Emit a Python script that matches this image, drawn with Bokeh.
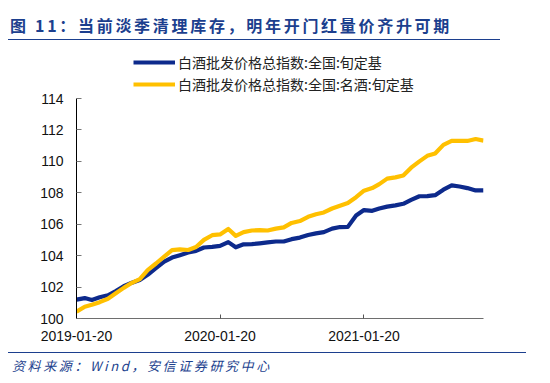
from datetime import datetime
from bokeh.plotting import figure
from bokeh.models import (Range1d, FixedTicker, DatetimeTickFormatter, Legend, LegendItem,
                          Div, ColumnDataSource)
from bokeh.layouts import column
from bokeh.embed import file_html
from bokeh.resources import INLINE

dates = [
    "2019-01-20", "2019-02-10", "2019-02-28", "2019-03-20", "2019-04-10", "2019-04-30",
    "2019-05-20", "2019-06-10", "2019-06-30", "2019-07-20", "2019-08-10", "2019-08-31",
    "2019-09-20", "2019-10-10", "2019-10-31", "2019-11-20", "2019-12-10", "2019-12-31",
    "2020-01-20", "2020-02-10", "2020-02-29", "2020-03-20", "2020-04-10", "2020-04-30",
    "2020-05-20", "2020-06-10", "2020-06-30", "2020-07-20", "2020-08-10", "2020-08-31",
    "2020-09-20", "2020-10-10", "2020-10-31", "2020-11-20", "2020-12-10", "2020-12-31",
    "2021-01-20", "2021-02-10", "2021-02-28", "2021-03-20", "2021-04-10", "2021-04-30",
    "2021-05-20", "2021-06-10", "2021-06-30", "2021-07-20", "2021-08-10", "2021-08-31",
    "2021-09-20", "2021-10-10", "2021-10-31", "2021-11-20",
]

national = [
    101.2, 101.3, 101.18, 101.35, 101.48, 101.75, 102.05, 102.28, 102.45, 102.78, 103.2, 103.62,
    103.88, 104.03, 104.2, 104.3, 104.52, 104.56,
    104.62, 104.86, 104.53, 104.72, 104.73, 104.78, 104.84, 104.9, 104.9, 105.05, 105.15, 105.31,
    105.42, 105.5, 105.72, 105.82, 105.83, 106.55,
    106.9, 106.85, 107.0, 107.12, 107.2, 107.3, 107.55, 107.78, 107.79, 107.85, 108.2, 108.47,
    108.4, 108.3, 108.15, 108.15,
]

famous = [
    100.43, 100.75, 100.87, 101.04, 101.26, 101.6, 101.95, 102.27, 102.5, 103.08, 103.5, 103.94,
    104.35, 104.4, 104.36, 104.55, 105.0, 105.3,
    105.35, 105.7, 105.26, 105.5, 105.6, 105.62, 105.6, 105.72, 105.8, 106.08, 106.2, 106.47,
    106.63, 106.75, 107.0, 107.18, 107.35, 107.72,
    108.13, 108.3, 108.55, 108.9, 108.98, 109.1, 109.6, 110.0, 110.35, 110.5, 111.05, 111.3,
    111.3, 111.3, 111.42, 111.32,
]

series_names = ["白酒批发价格总指数:全国:旬定基", "白酒批发价格总指数:全国:名酒:旬定基"]
x_tick_labels = ["2019-01-20", "2020-01-20", "2021-01-20"]
y_ticks = [100, 102, 104, 106, 108, 110, 112, 114]

title_text = "图 11：当前淡季清理库存，明年开门红量价齐升可期"
source_text = "资料来源：Wind，安信证券研究中心"

NAVY = "#0D2A8C"
GOLD = "#FFC000"
TITLE_BLUE = "#1C3F8E"

def to_dt(s):
    return datetime.strptime(s, "%Y-%m-%d")

xs = [to_dt(d) for d in dates]
src = ColumnDataSource(dict(x=xs, a=national, b=famous))

# frame: x 76..483, y 43..318 ; y-axis drawn only over 100..114 (220 px)
p = figure(width=534, height=312, x_axis_type="datetime",
           x_range=Range1d(to_dt("2019-01-20"), to_dt("2021-11-20")),
           y_range=Range1d(100, 117.5),
           output_backend="svg", toolbar_location=None,
           min_border_left=76, min_border_right=51, min_border_top=3, min_border_bottom=34)
p.outline_line_color = None
p.xgrid.grid_line_color = None
p.ygrid.grid_line_color = None
p.background_fill_color = "white"
p.border_fill_color = "white"

r1 = p.line("x", "a", source=src, line_color=NAVY, line_width=4.2, line_join="round")
r2 = p.line("x", "b", source=src, line_color=GOLD, line_width=4.2, line_join="round")

# x axis
p.xaxis.ticker = FixedTicker(ticks=[to_dt(t).timestamp() * 1000 for t in x_tick_labels])
p.xaxis.formatter = DatetimeTickFormatter(
    microseconds="%Y-%m-%d", milliseconds="%Y-%m-%d", seconds="%Y-%m-%d",
    minsec="%Y-%m-%d", minutes="%Y-%m-%d", hourmin="%Y-%m-%d", hours="%Y-%m-%d",
    days="%Y-%m-%d", months="%Y-%m-%d", years="%Y-%m-%d")
p.xaxis.axis_line_color = "#6e6e6e"
p.xaxis.major_tick_line_color = "#555555"
p.xaxis.major_tick_in = 4
p.xaxis.major_tick_out = 0
p.xaxis.minor_tick_line_color = None
p.xaxis.major_label_text_font = "Liberation Sans"
p.xaxis.major_label_text_font_size = "14px"
p.xaxis.major_label_text_color = "#111111"
p.xaxis.major_label_standoff = 12

# y axis
p.yaxis.ticker = FixedTicker(ticks=y_ticks)
p.yaxis.bounds = (100, 114)
p.yaxis.axis_line_color = "black"
p.yaxis.major_tick_line_color = "#777777"
p.yaxis.major_tick_in = 5
p.yaxis.major_tick_out = 0
p.yaxis.minor_tick_line_color = None
p.yaxis.major_label_text_font = "Liberation Sans"
p.yaxis.major_label_text_font_size = "14px"
p.yaxis.major_label_text_color = "#111111"
p.yaxis.major_label_standoff = 13

legend = Legend(items=[LegendItem(label=series_names[0], renderers=[r1]),
                       LegendItem(label=series_names[1], renderers=[r2])],
                location=(57, 224), orientation="vertical")
legend.border_line_color = None
legend.background_fill_alpha = 0
legend.padding = 0
legend.margin = 0
legend.spacing = 2
legend.glyph_width = 42
legend.glyph_height = 20
legend.label_height = 20
legend.label_standoff = 3
legend.label_text_font = "Noto Sans CJK SC"
legend.label_text_font_size = "14px"
legend.label_text_color = "#222222"
p.add_layout(legend, "center")

title_div = Div(text=title_text, width=492, height=40, margin=(0, 0, 0, 8),
                styles={"font-family": "'Noto Sans CJK SC', sans-serif", "font-size": "16px",
                        "font-weight": "bold", "color": TITLE_BLUE, "letter-spacing": "2.7px",
                        "border-bottom": "1.5px solid " + TITLE_BLUE, "padding-left": "2px",
                        "padding-top": "11px", "line-height": "28px",
                        "box-sizing": "border-box", "white-space": "nowrap"})

source_div = Div(text=source_text, width=518, height=31, margin=(0, 0, 0, 8),
                 styles={"font-family": "'Noto Sans CJK SC', sans-serif", "font-size": "13px",
                         "font-style": "italic", "color": TITLE_BLUE, "letter-spacing": "2.6px",
                         "border-top": "1px solid " + TITLE_BLUE, "padding-left": "4px",
                         "padding-top": "3px", "line-height": "20px",
                         "box-sizing": "border-box", "white-space": "nowrap"})

layout = column(title_div, p, source_div, spacing=0)

open("out.html", "w").write(file_html(layout, INLINE))
